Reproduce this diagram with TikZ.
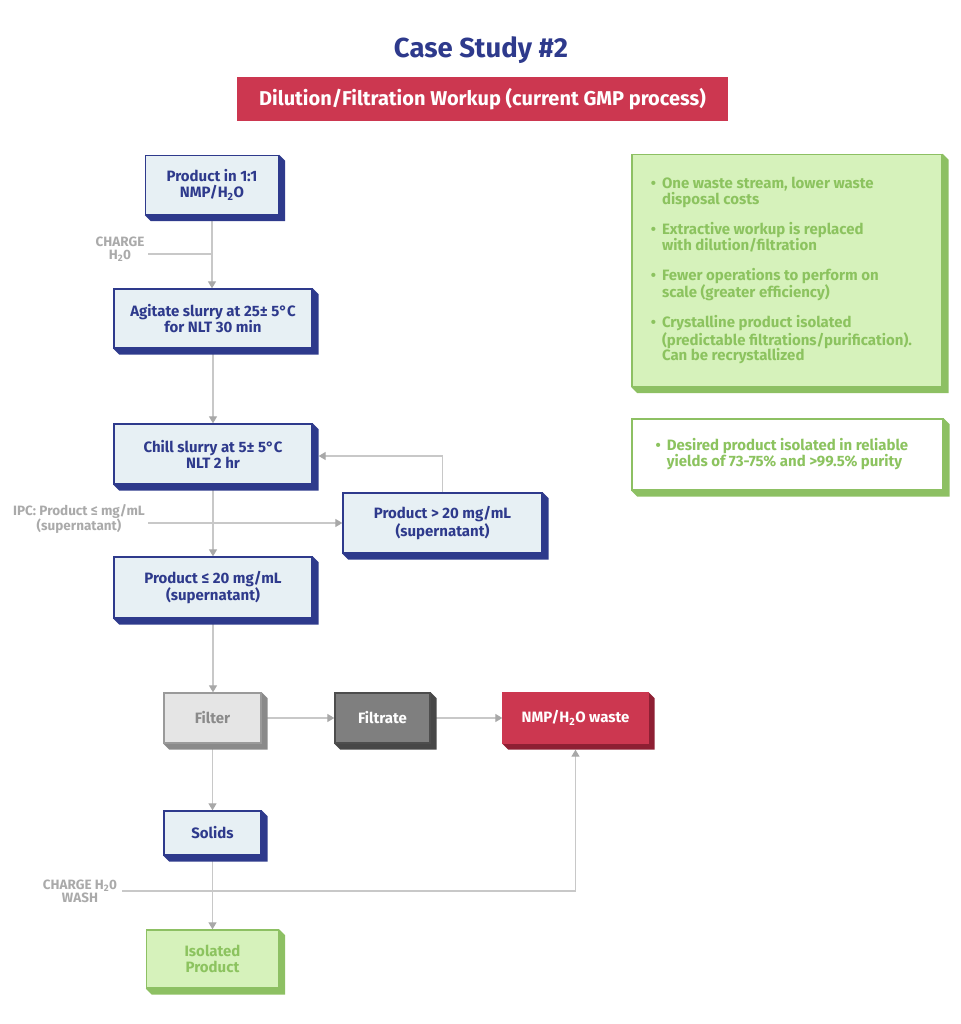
\documentclass[tikz,border=0pt]{standalone}
\usepackage{fontspec}
\setmainfont{Fira Sans}
\usetikzlibrary{arrows.meta,calc,backgrounds}
\definecolor{navy}{HTML}{2E3A8C}
\definecolor{paleblue}{HTML}{E7F0F4}
\definecolor{bannerred}{HTML}{CC3750}
\definecolor{darkred}{HTML}{8E1F33}
\definecolor{greenline}{HTML}{8DC063}
\definecolor{greenfill}{HTML}{D6F2BB}
\definecolor{greentext}{HTML}{8CC35F}
\definecolor{linegray}{HTML}{C8C8C8}
\definecolor{tipgray}{HTML}{A8A8A8}
\definecolor{labelgray}{HTML}{AAAAAA}
\definecolor{filtfill}{HTML}{E5E5E5}
\definecolor{filtline}{HTML}{9A9A9A}
\definecolor{filtshade}{HTML}{8A8A8A}
\definecolor{filtrfill}{HTML}{7F7F7F}
\definecolor{filtrline}{HTML}{4D4D4D}
\definecolor{darkshade}{HTML}{474747}
\begin{document}
\begin{tikzpicture}[x=1pt,y=-1pt,
    every node/.style={font=\bfseries\fontsize{15}{16}\selectfont, align=center, inner sep=0pt},
    bluebox/.style={draw=navy, line width=1.3pt, fill=paleblue, text=navy},
    filterbox/.style={draw=filtline, line width=1.3pt, fill=filtfill, text=filtshade},
    filtratebox/.style={draw=filtrline, line width=1.3pt, fill=filtrfill, text=white},
    wastebox/.style={draw=bannerred, line width=1.3pt, fill=bannerred, text=white},
    greenbox/.style={draw=greenline, line width=1.3pt, fill=greenfill, text=greentext},
    notebox/.style={draw=greenline, line width=1.3pt, fill=white, text=greentext, align=left},
    note/.style={text=labelgray, font=\bfseries\fontsize{13.5}{13}\selectfont},
    flow/.style={draw=linegray, line width=1.2pt, -{Triangle[width=8pt,length=7pt,color=tipgray]}},
    side/.style={draw=linegray, line width=1.2pt}]
  \useasboundingbox (0,0) rectangle (960,1024);

  \node[text=navy, font=\bfseries\fontsize{27.5}{30}\selectfont] (title) at (481,50) {Case Study \#2};
  \node[fill=bannerred, text=white, font=\bfseries\fontsize{20}{22}\selectfont,
        minimum width=491pt, minimum height=44pt] (banner) at (482.5,99) {Dilution/Filtration Workup (current GMP process)};

  \node[bluebox, minimum width=133pt, minimum height=59pt] (prod) at (212,185) {Product in 1:1\\NMP/H\textsubscript{2}O};
  \node[bluebox, minimum width=198pt, minimum height=59pt] (agit) at (213,318.5) {Agitate slurry at 25\textpm{} 5°C\\for NLT 30 min};
  \node[bluebox, minimum width=198pt, minimum height=60pt] (chill) at (213,454) {Chill slurry at 5\textpm{} 5°C\\NLT 2 hr};
  \node[bluebox, minimum width=199pt, minimum height=60pt] (high) at (442.5,523) {Product > 20 mg/mL\\(supernatant)};
  \node[bluebox, minimum width=198pt, minimum height=61pt] (low) at (213,587.5) {Product ≤ 20 mg/mL\\(supernatant)};
  \node[filterbox, minimum width=97pt, minimum height=50pt] (filter) at (212.5,718) {Filter};
  \node[filtratebox, minimum width=95pt, minimum height=50pt] (filtrate) at (382.5,718) {Filtrate};
  \node[wastebox, minimum width=145pt, minimum height=50pt] (waste) at (575.5,718) {NMP/H\textsubscript{2}O waste};
  \node[bluebox, minimum width=97pt, minimum height=44pt] (solids) at (212.5,833) {Solids};
  \node[greenbox, minimum width=132pt, minimum height=58pt] (isolated) at (212.5,959) {Isolated\\Product};

  \node[greenbox, align=left, font=\bfseries\fontsize{15}{15.5}\selectfont,
        minimum width=310pt, minimum height=232pt] (pro) at (787,270.5)
    {\llap{\textbullet\ \,}One waste stream, lower waste\\disposal costs\\[14.5pt]
     \llap{\textbullet\ \,}Extractive workup is replaced\\with dilution/filtration\\[14.5pt]
     \llap{\textbullet\ \,}Fewer operations to perform on\\scale (greater efficiency)\\[14.5pt]
     \llap{\textbullet\ \,}Crystalline product isolated\\(predictable filtrations/purification).\\Can be recrystallized};
  \node[notebox, minimum width=311pt, minimum height=71pt] (yield) at (787.5,454.5)
    {\llap{\textbullet\ \,}Desired product isolated in reliable\\yields of 73-75\% and >99.5\% purity};

  \node[note] (chglbl) at (120,249) {CHARGE\\H\textsubscript{2}0};
  \node[note] (ipclbl) at (79,519) {IPC: Product ≤ mg/mL\\(supernatant)};
  \node[note] (washlbl) at (80,891) {CHARGE H\textsubscript{2}0\\WASH};
  \coordinate (chgin) at (148,254);
  \coordinate (ipcin) at (148,523);
  \coordinate (washin) at (122,891);

  \begin{scope}[on background layer]
    \draw[flow] (prod.south) -- (prod.south |- agit.north);
    \draw[side] (chgin) -- (chgin -| prod.south);
    \draw[flow] (agit.south) -- (agit.south |- chill.north);
    \draw[flow] (chill.south) -- (chill.south |- low.north);
    \draw[flow] (ipcin) -- (high.west);
    \draw[flow] (high.north) |- ($(chill.east)+(6,2)$);
    \draw[flow] (low.south) -- (low.south |- filter.north);
    \draw[flow] (filter.east) -- (filtrate.west);
    \draw[flow] (filtrate.east) -- (waste.west);
    \draw[flow] (filter.south) -- (filter.south |- solids.north);
    \draw[flow] (solids.south) -- (solids.south |- isolated.north);
    \draw[flow] (washin) -| ($(waste.south)+(0,6)$);
    \foreach \n/\c in {prod/navy,agit/navy,chill/navy,high/navy,low/navy,solids/navy,
                       filter/filtshade,filtrate/darkshade,waste/darkred,
                       isolated/greenline,pro/greenline,yield/greenline}
      \fill[\c] (\n.north east) -- ($(\n.north east)+(6,6)$) -- ($(\n.south east)+(6,6)$)
        -- ($(\n.south west)+(6,6)$) -- (\n.south west) -- cycle;
  \end{scope}
\end{tikzpicture}
\end{document}
